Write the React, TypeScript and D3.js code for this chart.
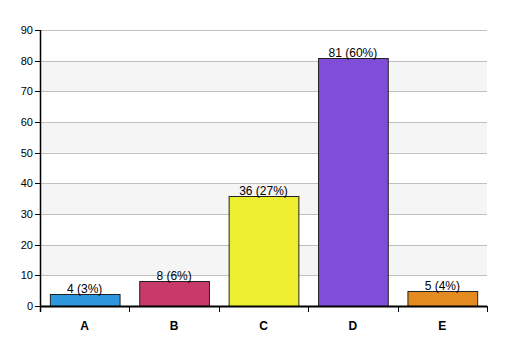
import React from "react";
import * as d3 from "d3";

const categories = ["A", "B", "C", "D", "E"];
const values = [4, 8, 36, 81, 5];
const labels = ["4 (3%)", "8 (6%)", "36 (27%)", "81 (60%)", "5 (4%)"];
const colors = ["#2d96dd", "#c83a6a", "#eeee30", "#804dd8", "#e38b1f"];
const yTicks = [0, 10, 20, 30, 40, 50, 60, 70, 80, 90];

export default function App() {
  const W = 507, H = 356;
  const left = 40, right = 487, top = 30, bottom = 306;
  const x = d3.scaleBand<string>().domain(categories).range([left, right]).paddingInner(0.22).paddingOuter(0.11);
  const xb = d3.scaleBand<string>().domain(categories).range([left, right]);
  const y = d3.scaleLinear().domain([0, 90]).range([bottom, top]);
  const font = "Arial, 'Liberation Sans', sans-serif";
  return (
    <svg width={W} height={H} style={{ position: "absolute", left: 0, top: 0 }} fontFamily={font}>
      <rect x={0} y={0} width={W} height={H} fill="#fff" />
      {yTicks.slice(0, -1).map((t, i) =>
        i % 2 === 1 ? (
          <rect key={"b" + t} x={left} y={y(t + 10)} width={right - left} height={y(t) - y(t + 10)} fill="#f5f5f5" />
        ) : null
      )}
      {yTicks.slice(1).map((t) => (
        <line key={"g" + t} x1={left} x2={right} y1={Math.round(y(t)) + 0.5} y2={Math.round(y(t)) + 0.5} stroke="#c0c0c0" />
      ))}
      {categories.map((c, i) => (
        <g key={c}>
          <rect x={x(c)! + 0.5} y={Math.round(y(values[i])) + 0.5} width={x.bandwidth()} height={bottom - Math.round(y(values[i]))} fill={colors[i]} stroke="#222" strokeWidth={1} />
          <text x={x(c)! + x.bandwidth() / 2} y={Math.round(y(values[i])) - 1} textAnchor="middle" fontSize={12} fill="#000">{labels[i]}</text>
          <text x={xb(c)! + xb.bandwidth() / 2} y={330} textAnchor="middle" fontSize={12} fontWeight="bold" fill="#000">{c}</text>
        </g>
      ))}
      {yTicks.map((t) => (
        <g key={"t" + t}>
          <line x1={35} x2={left} y1={Math.round(y(t)) + 0.5} y2={Math.round(y(t)) + 0.5} stroke="#000" />
          <text x={33} y={Math.round(y(t)) + 4} textAnchor="end" fontSize={11} fill="#000">{t}</text>
        </g>
      ))}
      <line x1={left + 0.5} x2={left + 0.5} y1={top} y2={bottom + 6} stroke="#000" strokeWidth={1.5} />
      <line x1={left} x2={right} y1={bottom + 0.5} y2={bottom + 0.5} stroke="#000" strokeWidth={2} />
      {categories.map((c) => (
        <line key={"xt" + c} x1={Math.round(xb(c)! + xb.bandwidth()) + 0.5} x2={Math.round(xb(c)! + xb.bandwidth()) + 0.5} y1={bottom} y2={bottom + 6} stroke="#000" />
      ))}
    </svg>
  );
}
